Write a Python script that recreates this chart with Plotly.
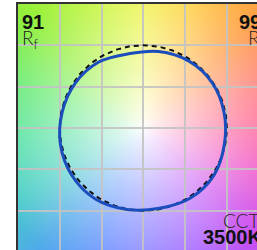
import numpy as np
import plotly.graph_objects as go
import zlib, struct, base64

# ---------------- data ----------------
# TM-30 colour vector graphic: 16 hue bins (bin-centre angles, degrees)
bin_angles = [11.25, 33.75, 56.25, 78.75, 101.25, 123.75, 146.25, 168.75,
              191.25, 213.75, 236.25, 258.75, 281.25, 303.75, 326.25, 348.75]
# relative chroma of the test source in each bin (reference = 1)
test_radius = [0.985, 0.990, 0.976, 0.943, 0.915, 0.960, 0.979, 0.990,
               1.012, 1.030, 1.034, 1.005, 0.990, 1.018, 1.020, 0.990]
reference_radius = 1.0

rf_value = "91"
rg_value = "99"
cct_value = "3500K"

# background hue wheel (angle -> colour)
hue_angles = [0, 20, 45, 70, 90, 112, 135, 160, 185, 210, 230, 250, 270, 295, 318, 340, 360]
hue_r = [255, 255, 255, 255, 240, 195, 150, 100, 80, 70, 80, 100, 135, 170, 205, 240, 255]
hue_g = [95, 120, 160, 210, 245, 245, 240, 235, 225, 205, 170, 145, 130, 100, 75, 80, 95]
hue_b = [150, 120, 70, 70, 80, 60, 60, 110, 160, 200, 235, 255, 255, 255, 240, 200, 150]

# ---------------- background image ----------------
N = 300
xs = np.linspace(-1.5, 1.5, N)
ys = np.linspace(1.5, -1.5, N)
X, Y = np.meshgrid(xs, ys)
R = np.hypot(X, Y)
TH = np.degrees(np.arctan2(Y, X)) % 360
cols = np.stack([np.interp(TH, hue_angles, ch) for ch in (hue_r, hue_g, hue_b)], -1)
s = (np.clip(R / 1.9, 0, 1) ** 0.85)[..., None]
img = np.clip(255 * (1 - s) + cols * s, 0, 255).astype(np.uint8)


def png_uri(arr):
    h, w, _ = arr.shape
    raw = b"".join(b"\x00" + arr[i].tobytes() for i in range(h))

    def chunk(t, d):
        c = struct.pack(">I", len(d)) + t + d
        return c + struct.pack(">I", zlib.crc32(t + d) & 0xFFFFFFFF)

    png = (b"\x89PNG\r\n\x1a\n"
           + chunk(b"IHDR", struct.pack(">IIBBBBB", w, h, 8, 2, 0, 0, 0))
           + chunk(b"IDAT", zlib.compress(raw, 9))
           + chunk(b"IEND", b""))
    return "data:image/png;base64," + base64.b64encode(png).decode()


# ---------------- traces ----------------
th = np.radians(bin_angles + [bin_angles[0]])
rr = np.array(test_radius + [test_radius[0]])
tx = rr * np.cos(th)
ty = rr * np.sin(th)

ref_t = np.linspace(0, 2 * np.pi, 181)
fig = go.Figure()
fig.add_trace(go.Scatter(x=reference_radius * np.cos(ref_t), y=reference_radius * np.sin(ref_t),
                         mode="lines", line=dict(color="#111111", width=2, dash="5px,4px"),
                         hoverinfo="skip", showlegend=False))
fig.add_trace(go.Scatter(x=tx, y=ty, mode="lines",
                         line=dict(color="#1c4dbd", width=3, shape="spline", smoothing=1),
                         hoverinfo="skip", showlegend=False))

fig.add_layout_image(dict(source=png_uri(img), xref="x", yref="y", x=-1.5, y=1.5,
                          sizex=3, sizey=3, xanchor="left", yanchor="top",
                          sizing="stretch", layer="below"))

# pixel -> data helpers (plot area: left 18, top 4)
KX, CX = 83.53, 143.3
KY, CY = 82.67, 128.0


def px(x):
    return (x - CX) / KX


def py(y):
    return (CY - y) / KY


bold = dict(family="Liberation Sans", size=20, color="#111111", weight="bold")
thin = dict(family="Lato", size=19, color="#222222", weight=300)
ann = [
    (rf_value, 20.5, 10, bold),
    ("R<sub>f</sub>", 21, 25, thin),
    (rg_value, 238, 10, bold),
    ("R<sub>g</sub>", 246.5, 25, thin),
    ("CCT", 222, 207.5, thin),
    (cct_value, 201.5, 225, bold),
]
for text, x, y, f in ann:
    fig.add_annotation(x=px(x), y=py(y), xref="x", yref="y", text=text, showarrow=False,
                       xanchor="left", yanchor="top", font=f, borderpad=0)

grid = "rgba(195,195,195,0.9)"
fig.update_xaxes(range=[-1.5, px(257)], tick0=0, dtick=0.5, showticklabels=False, ticks="",
                 showgrid=True, gridcolor=grid, gridwidth=1.5, zeroline=False,
                 showline=True, linecolor="#333333", linewidth=1.5, side="top", fixedrange=True)
fig.update_yaxes(range=[py(250), 1.5], tick0=0, dtick=0.5, showticklabels=False, ticks="",
                 showgrid=True, gridcolor=grid, gridwidth=1.5, zeroline=False,
                 showline=True, linecolor="#333333", linewidth=1.5, fixedrange=True)
fig.update_layout(width=257, height=250, margin=dict(l=18, r=0, t=4, b=0),
                  paper_bgcolor="white", plot_bgcolor="white", showlegend=False)

fig.write_html("out.html", config={"displayModeBar": False},
               post_script="document.body.style.margin='0';document.body.style.overflow='hidden';")
